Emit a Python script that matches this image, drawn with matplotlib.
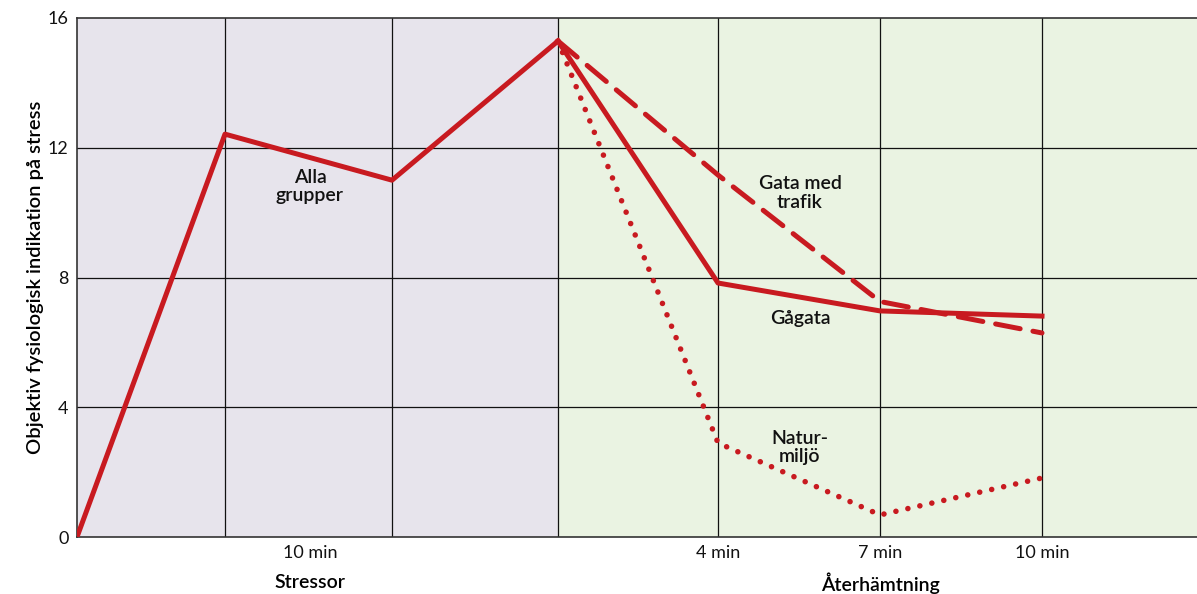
import matplotlib
matplotlib.use("Agg")
import matplotlib.pyplot as plt

plt.rcParams['font.family'] = ['Lato', 'DejaVu Sans']

# horizontal positions of the measurement points (pixel-like units along the axis)
stress_pos = [0, 148, 315, 481]
recov_pos = [481, 641, 803, 965]
grid_pos = [148, 315, 481, 641, 803, 965]
x_end = 1120
split_pos = 481

alla_grupper = [0, 12.42, 11.0, 15.29]
gata_trafik = [15.29, 11.16, 7.26, 6.29]
gagata = [15.29, 7.83, 6.97, 6.81]
naturmiljo = [15.29, 2.9, 0.68, 1.82]

tick_pos = [233, 641, 803, 965]
tick_labels = ["10 min", "4 min", "7 min", "10 min"]
group_pos = [233, 803]
group_labels = ["Stressor", "Återhämtning"]

RED = "#c81a20"
LW = 3.6

fig = plt.figure(figsize=(11.97, 5.94), dpi=100)
ax = fig.add_axes([77 / 1197, 57 / 594, 1 - 77 / 1197, (537 - 18) / 594])

ax.axvspan(0, split_pos, color="#e7e4ec", zorder=0)
ax.axvspan(split_pos, x_end, color="#eaf3e2", zorder=0)

for g in grid_pos:
    ax.axvline(g, color="#111111", lw=0.9, zorder=1)
for yv in [4, 8, 12]:
    ax.axhline(yv, color="#111111", lw=0.9, zorder=1)

ax.plot(stress_pos, alla_grupper, color=RED, lw=LW, zorder=3)
ax.plot(recov_pos, gagata, color=RED, lw=LW, zorder=3)
ax.plot(recov_pos, gata_trafik, color=RED, lw=LW, dashes=(5.0, 2.6),
        dash_capstyle='round', zorder=3)
ax.plot(recov_pos, naturmiljo, color=RED, lw=LW + 0.4, dashes=(0.01, 2.2),
        dash_capstyle='round', zorder=3)

ax.set_xlim(0, x_end)
ax.set_ylim(0, 16)
ax.set_yticks([0, 4, 8, 12, 16])
ax.set_yticklabels(["0", "4", "8", "12", "16"], fontsize=13)
ax.set_xticks(tick_pos)
ax.set_xticklabels(tick_labels, fontsize=13)
ax.tick_params(axis='both', length=0, colors="#111111")
ax.tick_params(axis='x', pad=6)
ax.tick_params(axis='y', pad=6)

for s in ['top', 'left', 'bottom']:
    ax.spines[s].set_color("#333333")
    ax.spines[s].set_linewidth(1.2)
ax.spines['right'].set_visible(False)

ax.set_ylabel("Objektiv fysiologisk indikation på stress", fontsize=14.5,
              fontweight='semibold', labelpad=3)

for p, lab in zip(group_pos, group_labels):
    ax.annotate(lab, xy=(p, 0), xycoords='data', xytext=(0, -33),
                textcoords='offset points', ha='center', va='center',
                fontsize=14, fontweight='semibold', annotation_clip=False)

txt = dict(ha='center', va='center', fontsize=14, fontweight='semibold',
           color="#111111", linespacing=1.1, zorder=4)
ax.text(233, 10.8, "Alla\ngrupper", **txt)
ax.text(723, 10.6, "Gata med\ntrafik", **txt)
ax.text(723, 6.75, "Gågata", **txt)
ax.text(723, 2.76, "Natur-\nmiljö", **txt)

fig.savefig("out.png", dpi=100)
